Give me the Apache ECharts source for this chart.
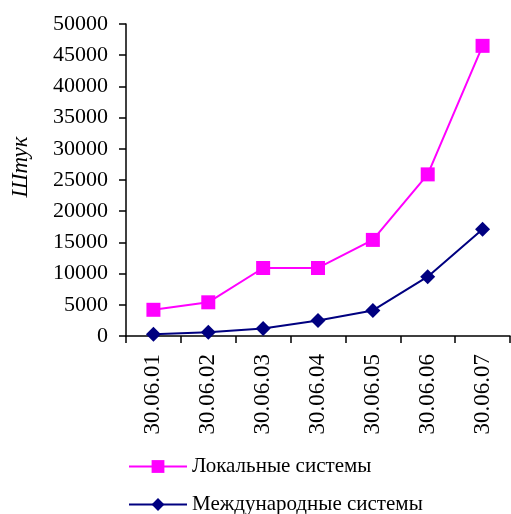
<!DOCTYPE html>
<html><head><meta charset="utf-8">
<script src="https://cdn.jsdelivr.net/npm/echarts@6/dist/echarts.min.js"></script>
<style>html,body{margin:0;padding:0;background:#fff}#c{width:511px;height:514px}</style>
</head><body><div id="c"></div>
<script>
const categories = ['30.06.01','30.06.02','30.06.03','30.06.04','30.06.05','30.06.06','30.06.07'];
const localSystems = [4200, 5400, 10900, 10900, 15400, 25900, 46500];
const intlSystems = [300, 600, 1200, 2500, 4100, 9500, 17100];
const seriesNames = ['Локальные системы', 'Международные системы'];
const yTicks = {min: 0, max: 50000, interval: 5000};
const yName = 'Штук';
const font = '"Liberation Serif", "Times New Roman", serif';
const legendBase = {
  orient: 'vertical', left: 128, itemWidth: 58, itemHeight: 16, padding: 0,
  textStyle: {fontFamily: font, fontSize: 21, color: '#000'}
};
const chart = echarts.init(document.getElementById('c'), null, {renderer: 'canvas'});
chart.setOption({
  animation: false,
  backgroundColor: '#fff',
  grid: {left: 126, right: 1, top: 24, bottom: 178, containLabel: false},
  legend: [
    Object.assign({}, legendBase, {top: 456, data: [seriesNames[0]]}),
    Object.assign({}, legendBase, {top: 494, data: [seriesNames[1]]})
  ],
  graphic: [{
    type: 'text', x: 21, y: 167, rotation: Math.PI / 2,
    style: {text: yName, fontFamily: font, fontSize: 23, fontStyle: 'italic', fill: '#000',
            align: 'center', verticalAlign: 'middle'}
  }],
  xAxis: {
    type: 'category', data: categories, boundaryGap: true,
    axisLine: {lineStyle: {color: '#000', width: 1.5}},
    axisTick: {show: true, length: 7, inside: false, lineStyle: {color: '#000', width: 1.5}},
    axisLabel: {rotate: 90, margin: 18, fontFamily: font, fontSize: 23, color: '#000'}
  },
  yAxis: {
    type: 'value', min: yTicks.min, max: yTicks.max, interval: yTicks.interval,
    axisLine: {show: true, lineStyle: {color: '#000', width: 1.5}},
    axisTick: {show: true, length: 7, lineStyle: {color: '#000', width: 1.5}},
    splitLine: {show: false},
    axisLabel: {margin: 18, fontFamily: font, fontSize: 22, color: '#000',
                formatter: v => String(v)}
  },
  series: [
    {name: seriesNames[0], type: 'line', data: localSystems, symbol: 'rect', symbolSize: 14,
     itemStyle: {color: '#FF00FF'}, lineStyle: {color: '#FF00FF', width: 2}},
    {name: seriesNames[1], type: 'line', data: intlSystems, symbol: 'diamond', symbolSize: 15,
     itemStyle: {color: '#000080'}, lineStyle: {color: '#000080', width: 2}}
  ]
});
</script></body></html>
